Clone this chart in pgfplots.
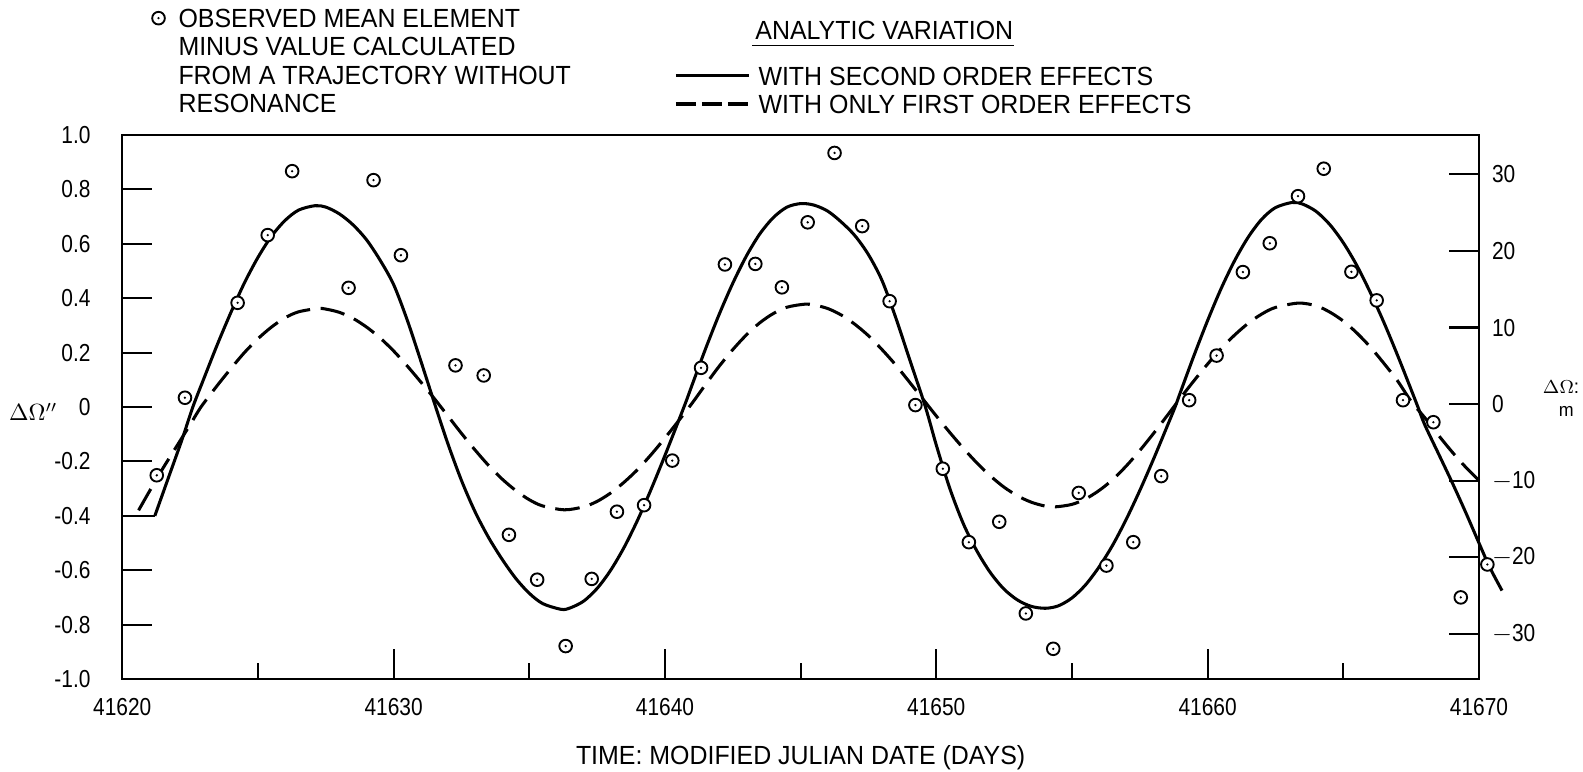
\documentclass[border=0pt]{standalone}
\usepackage{fontspec}
\setmainfont{Liberation Sans}[FakeStretch=0.95]
\newfontfamily\tickfamily{Liberation Sans}[FakeStretch=0.85]
\usepackage{pgfplots}
\usepackage{pgfplotstable}
\pgfplotsset{compat=1.18}

% open circle with a dot in the middle
\pgfdeclareplotmark{odot}{%
  \pgfpathcircle{\pgfpointorigin}{\pgfplotmarksize}%
  \pgfsetfillcolor{white}\pgfusepathqfillstroke
  \pgfsetfillcolor{black}%
  \pgfpathcircle{\pgfpointorigin}{0.2\pgfplotmarksize}\pgfusepathqfill}

\newcommand{\legfont}{\fontsize{11.2}{12.08}\selectfont}
\newcommand{\tickfont}{\tickfamily\fontsize{10.5}{12}\selectfont}

\pgfplotsset{
  obsimg/.style={legend image code/.code={%
    \path[draw=none,fill=none] (-0.12cm,0pt) rectangle (0.3cm,0pt);
    \draw[##1] plot coordinates {(0cm,4.01pt)};}},
  lineimg/.style={legend image code/.code={%
    \draw[##1] (0cm,4.01pt) -- (1.09cm,4.01pt);
    \path[draw=none,fill=none] (1.24cm,0pt) rectangle (1.24cm,0pt);}},
}

% observed mean element minus non-resonant trajectory
\pgfplotstableread{
x y
41621.27 -0.251
41622.31 0.034
41624.25 0.383
41625.36 0.632
41626.26 0.867
41628.34 0.438
41629.26 0.834
41630.27 0.558
41632.28 0.153
41633.32 0.116
41634.25 -0.470
41635.29 -0.635
41636.34 -0.879
41637.30 -0.632
41638.23 -0.385
41639.23 -0.361
41640.27 -0.197
41641.33 0.144
41642.21 0.524
41643.33 0.526
41644.31 0.440
41645.26 0.679
41646.25 0.934
41647.27 0.665
41648.28 0.389
41649.23 0.007
41650.24 -0.227
41651.20 -0.497
41652.32 -0.422
41653.30 -0.759
41654.31 -0.889
41655.25 -0.316
41656.27 -0.583
41657.26 -0.497
41658.29 -0.254
41659.32 0.025
41660.33 0.189
41661.30 0.496
41662.29 0.602
41663.33 0.775
41664.28 0.876
41665.30 0.497
41666.23 0.392
41667.20 0.025
41668.32 -0.056
41669.33 -0.700
41670.31 -0.579
}\observed

% analytic variation, second order
\pgfplotstableread{
x y
41621.2 -0.4
41621.7 -0.26
41622.2 -0.12
41622.6 0.0
41623.0 0.103
41623.5 0.229
41624.0 0.347
41624.5 0.456
41625.0 0.55
41625.5 0.628
41626.0 0.686
41626.5 0.724
41627.1 0.74
41627.5 0.735
41628.0 0.71
41628.5 0.67
41629.0 0.615
41629.5 0.54
41630.0 0.45
41630.5 0.32
41631.0 0.17
41631.55 0.0
41632.0 -0.135
41632.5 -0.27
41633.0 -0.385
41633.5 -0.48
41634.0 -0.56
41634.5 -0.63
41635.0 -0.685
41635.5 -0.723
41636.18 -0.744
41636.5 -0.739
41637.0 -0.714
41637.5 -0.667
41638.0 -0.6
41638.5 -0.515
41639.0 -0.414
41639.5 -0.3
41640.0 -0.178
41640.7 0.0
41641.0 0.081
41641.5 0.215
41642.0 0.341
41642.5 0.455
41643.0 0.555
41643.5 0.637
41644.0 0.697
41644.5 0.735
41645.02 0.748
41645.5 0.742
41646.0 0.72
41646.5 0.68
41647.0 0.63
41647.5 0.56
41648.0 0.465
41648.5 0.33
41649.0 0.18
41649.6 0.0
41650.0 -0.14
41650.5 -0.30
41651.0 -0.43
41651.5 -0.53
41652.0 -0.61
41652.5 -0.67
41653.0 -0.71
41653.5 -0.733
41654.02 -0.74
41654.5 -0.731
41655.0 -0.702
41655.5 -0.654
41656.0 -0.588
41656.5 -0.508
41657.0 -0.413
41657.5 -0.307
41658.0 -0.193
41658.5 -0.073
41658.8 0.0
41659.0 0.055
41659.5 0.19
41660.0 0.318
41660.5 0.436
41661.0 0.539
41661.5 0.625
41662.0 0.691
41662.5 0.733
41663.12 0.752
41663.5 0.746
41664.0 0.719
41664.5 0.671
41665.0 0.604
41665.5 0.52
41666.0 0.42
41666.5 0.31
41667.0 0.19
41667.5 0.064
41667.75 0.0
41668.0 -0.065
41668.5 -0.17
41669.0 -0.275
41669.5 -0.385
41670.0 -0.5
41670.4 -0.59
41670.85 -0.675
}\second

% analytic variation, first order only
\pgfplotstableread{
x y
41620.6 -0.38
41621.0 -0.31
41621.5 -0.225
41622.0 -0.145
41622.5 -0.065
41622.9 0.0
41623.5 0.079
41624.0 0.141
41624.5 0.2
41625.0 0.251
41625.5 0.294
41626.0 0.328
41626.5 0.35
41627.2 0.362
41627.5 0.36
41628.0 0.348
41628.5 0.326
41629.0 0.294
41629.5 0.254
41630.0 0.206
41630.5 0.151
41631.0 0.092
41631.5 0.031
41632.0 -0.033
41632.5 -0.097
41633.0 -0.158
41633.5 -0.215
41634.0 -0.265
41634.5 -0.307
41635.0 -0.341
41635.5 -0.364
41636.3 -0.378
41637.0 -0.367
41637.5 -0.347
41638.0 -0.316
41638.5 -0.276
41639.0 -0.229
41639.5 -0.174
41640.0 -0.114
41640.5 -0.051
41641.0 0.014
41641.5 0.083
41642.0 0.15
41642.5 0.211
41643.0 0.265
41643.5 0.31
41644.0 0.344
41644.5 0.367
41645.15 0.378
41645.5 0.375
41646.0 0.362
41646.5 0.338
41647.0 0.304
41647.5 0.262
41648.0 0.211
41648.5 0.155
41649.0 0.093
41649.5 0.03
41650.0 -0.033
41650.5 -0.094
41651.0 -0.152
41651.5 -0.206
41652.0 -0.254
41652.5 -0.295
41653.0 -0.327
41653.5 -0.35
41654.0 -0.364
41654.4 -0.367
41655.0 -0.358
41655.5 -0.338
41656.0 -0.307
41656.5 -0.267
41657.0 -0.217
41657.5 -0.16
41658.0 -0.098
41658.5 -0.033
41659.0 0.033
41659.5 0.097
41660.0 0.158
41660.5 0.215
41661.0 0.265
41661.5 0.308
41662.0 0.342
41662.5 0.366
41663.35 0.382
41664.0 0.372
41664.5 0.349
41665.0 0.316
41665.5 0.272
41666.0 0.22
41666.5 0.16
41667.0 0.096
41667.5 0.021
41668.0 -0.039
41668.5 -0.103
41669.0 -0.164
41669.5 -0.22
41670.0 -0.27
}\first

\begin{document}
\begin{tikzpicture}
\begin{axis}[
  scale only axis, width=20.35cm, height=8.16cm,
  xmin=41620, xmax=41670, ymin=-1, ymax=1,
  clip=false,
  scaled x ticks=false, scaled y ticks=false,
  axis line style={line width=0.95pt},
  tick align=inside,
  major tick length=0.45cm, minor tick length=0.24cm,
  tick style={black, line width=0.9pt},
  xtick={41620,41630,41640,41650,41660,41670},
  xticklabels={41620,41630,41640,41650,41660,41670},
  minor xtick={41625,41635,41645,41655,41665},
  xtick pos=left, ytick pos=left,
  ytick={-1,-0.8,-0.6,-0.4,-0.2,0,0.2,0.4,0.6,0.8,1},
  yticklabels={-1.0,-0.8,-0.6,-0.4,-0.2,0,0.2,0.4,0.6,0.8,1.0},
  xticklabel style={font=\tickfont, anchor=north, inner sep=0pt, yshift=-0.28cm},
  yticklabel style={font=\tickfont, anchor=east, inner sep=0pt, xshift=-0.47cm},
  xlabel={TIME: MODIFIED JULIAN DATE (DAYS)},
  xlabel style={font=\legfont, at={(axis description cs:0.5,-0.1449)}, anchor=center, inner sep=0pt},
  legend style={at={(0.0208,1.2339)}, anchor=north west, draw=none, fill=none,
    inner sep=0pt, outer sep=0pt, column sep=0pt, row sep=0pt, font=\legfont,
    cells={anchor=base west}, nodes={inner sep=0pt}},
]
\addplot[black, line width=1.3pt, smooth, forget plot] table[x=x,y=y] {\second};
\addplot[black, line width=0.9pt, forget plot] coordinates {(41620,-0.4) (41621.2,-0.4)};
\addplot[black, line width=1.3pt, smooth, dash pattern=on 10.5pt off 4.5pt, forget plot] table[x=x,y=y] {\first};
\addplot[only marks, mark=odot, mark size=2.7pt, mark options={black, line width=0.8pt}, obsimg] table[x=x,y=y] {\observed};
\addlegendentry{\begin{tabular}[t]{@{}l@{}}OBSERVED MEAN ELEMENT\\MINUS VALUE CALCULATED\\FROM A TRAJECTORY WITHOUT\\RESONANCE\end{tabular}}
\end{axis}

% right-hand scale in metres
\begin{axis}[
  scale only axis, width=20.35cm, height=8.16cm,
  xmin=41620, xmax=41670, ymin=-35.87, ymax=35.13,
  axis x line=none, axis y line*=right,
  axis line style={line width=0.95pt},
  tick align=inside, major tick length=0.45cm,
  tick style={black, line width=0.9pt},
  ytick={-30,-20,-10,0,10,20,30},
  yticklabels={$-$30,$-$20,$-$10,0,10,20,30},
  yticklabel style={font=\tickfont, anchor=west, inner sep=0pt, xshift=0.19cm},
  legend style={at={(0.4069,1.1284)}, anchor=north west, draw=none, fill=none,
    inner sep=0pt, outer sep=0pt, column sep=0pt, row sep=0pt, font=\legfont,
    cells={anchor=base west}, nodes={inner sep=0pt, text height=8.5pt, text depth=3.58pt}},
]
\addlegendimage{black, line width=1.3pt, lineimg}
\addlegendentry{WITH SECOND ORDER EFFECTS}
\addlegendimage{black, line width=1.3pt, dash pattern=on 8.5pt off 2.6pt, lineimg}
\addlegendentry{WITH ONLY FIRST ORDER EFFECTS}
\end{axis}

\node (title) [anchor=base west, font=\legfont, inner sep=0pt] at (9.4905,9.5895) {ANALYTIC VARIATION};
\draw[line width=0.6pt] ([xshift=-0.04cm,yshift=-0.09cm]title.base west) -- ([yshift=-0.09cm]title.base east);

\node[font=\fontsize{10}{12}\selectfont] at (-1.335,4.005) {$\Delta\Omega''$};
\node[anchor=east, font=\fontsize{8.5}{10}\selectfont, inner sep=0pt] at (21.86,4.38) {$\Delta\Omega$:};
\node[font=\fontsize{8}{10}\selectfont, inner sep=0pt] at (21.66,4.02) {m};

\pgfresetboundingbox
\path[use as bounding box] (-1.8345,-1.395) rectangle (21.9105,10.185);
\end{tikzpicture}
\end{document}
